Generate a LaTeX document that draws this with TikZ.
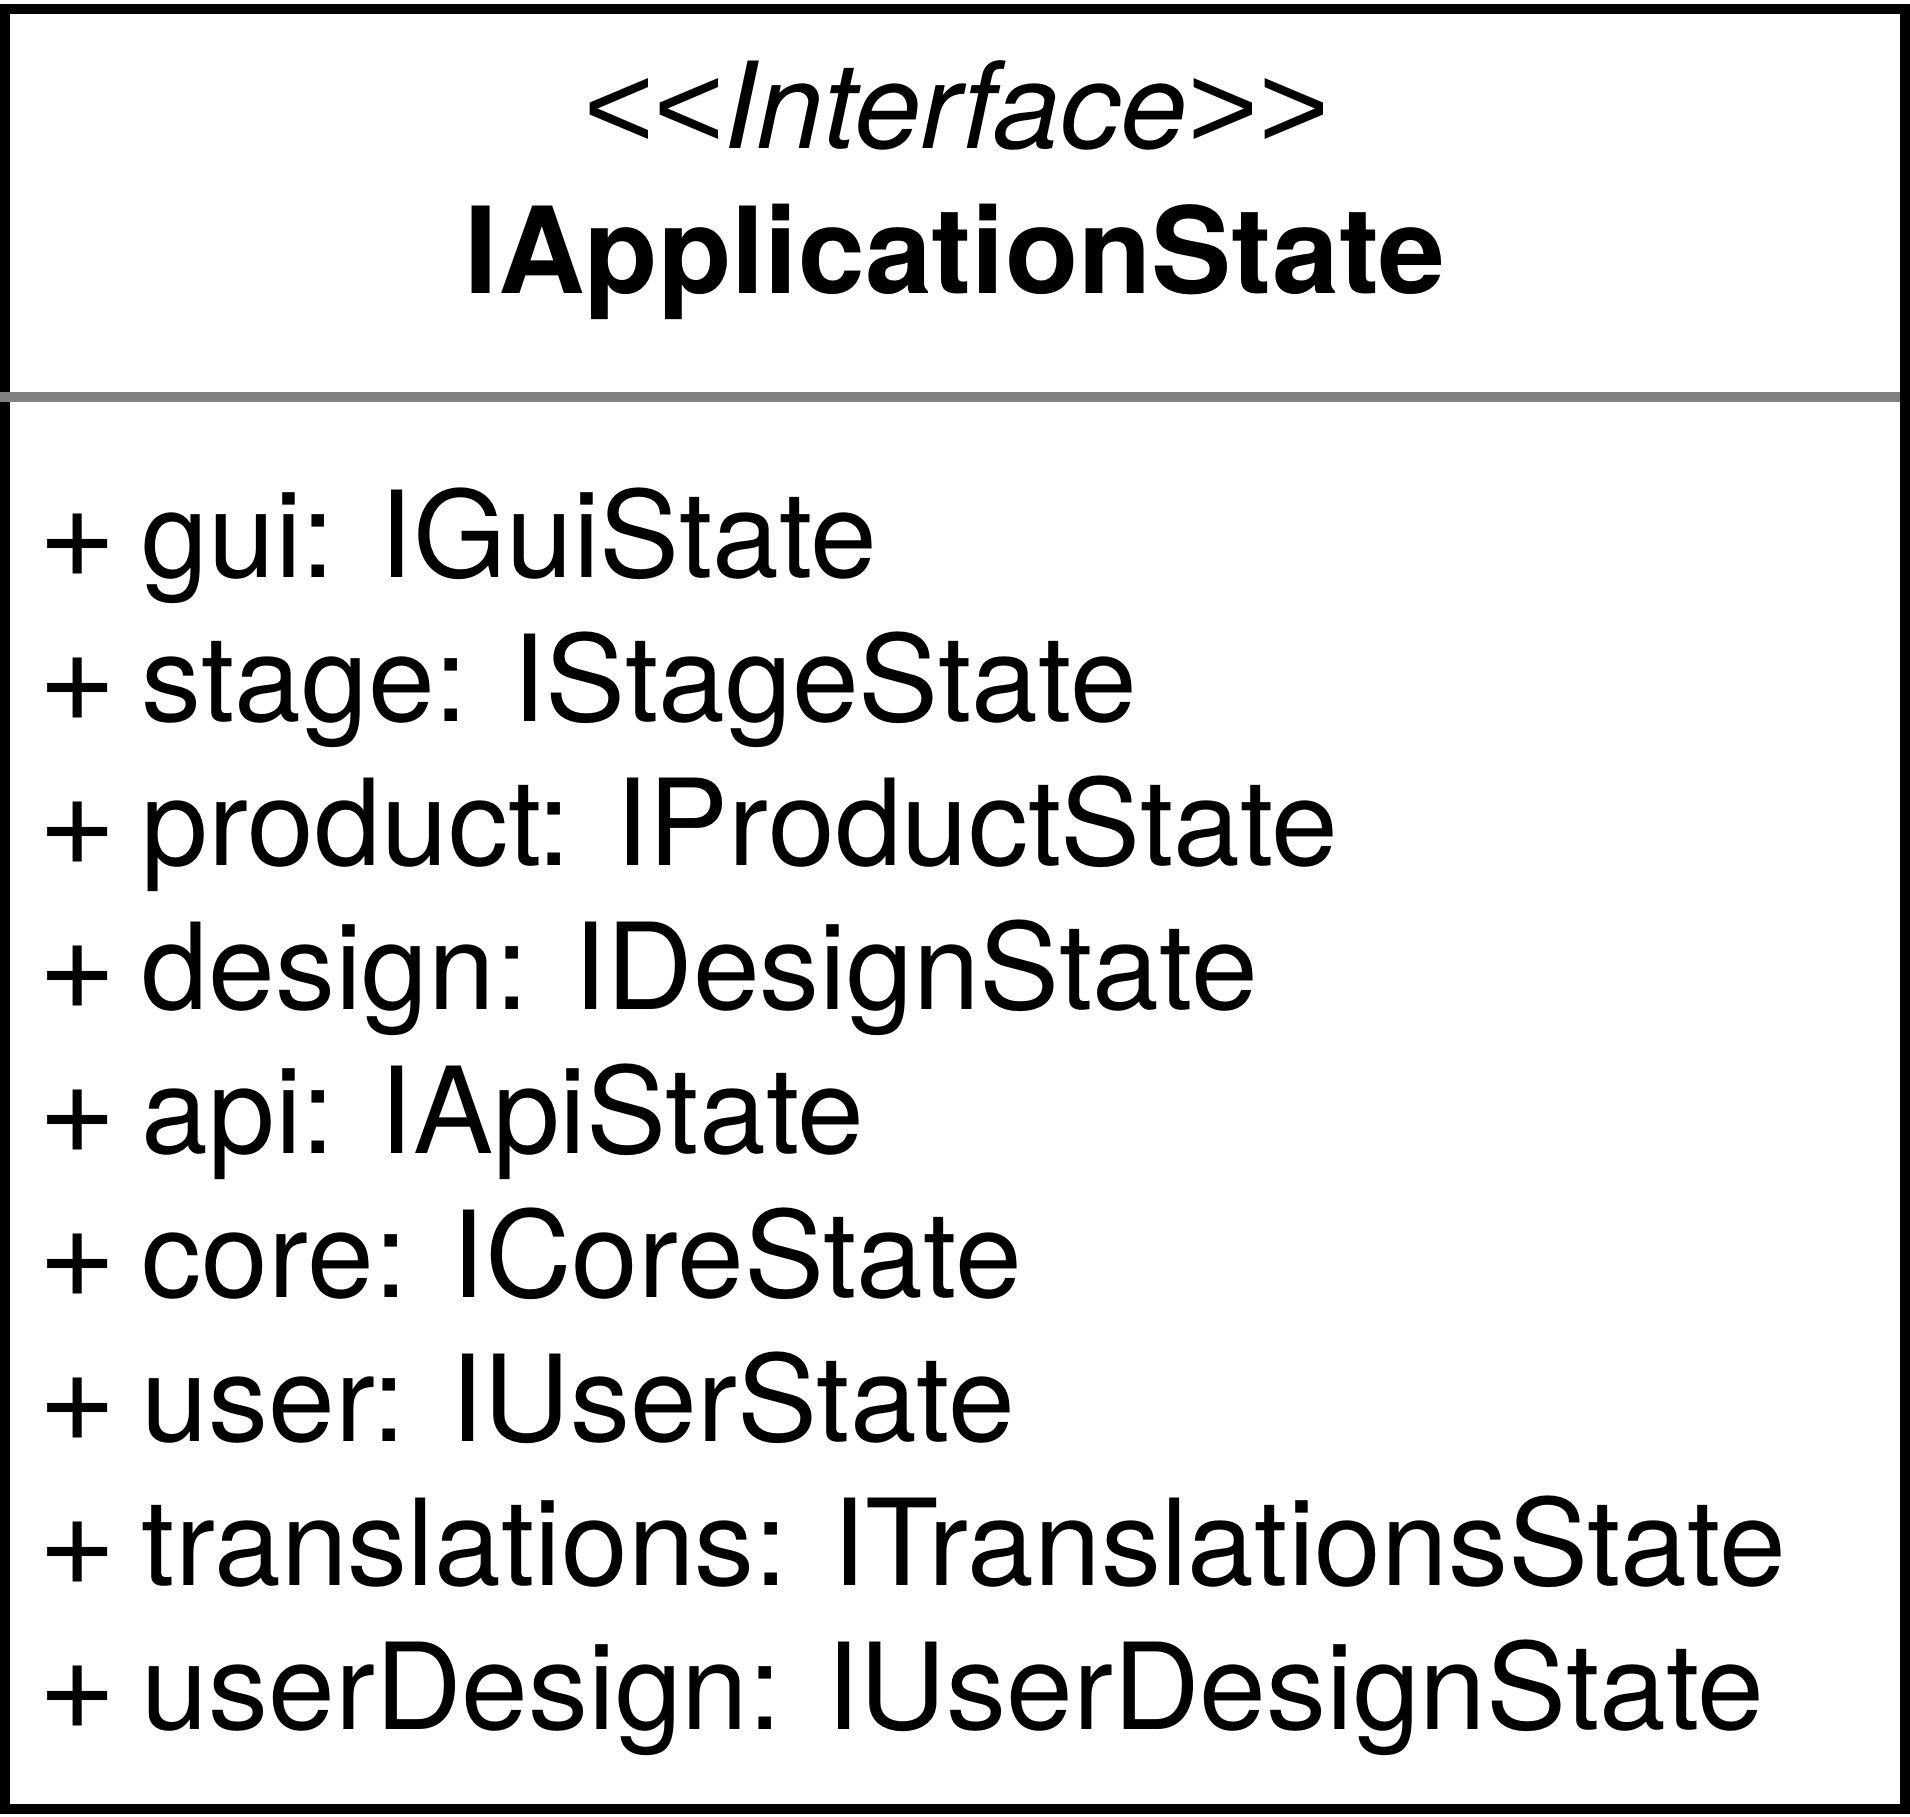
\documentclass[tikz,border=0pt]{standalone}
\usepackage{fontspec}
\setmainfont{TeX Gyre Heros}
\newfontfamily\lsans{Liberation Sans}
\newcommand{\pl}{{\fontsize{134}{144}\selectfont +}\kern-8pt}
\begin{document}
\begin{tikzpicture}[x=1pt,y=-1pt,
  bigtext/.style={inner sep=0pt,font=\fontsize{120}{144}\selectfont},
  attr/.style={bigtext,anchor=base west},
  head/.style={bigtext,anchor=base},
  frame/.style={draw=black,line width=10pt},
  sepline/.style={draw=black!50,line width=10pt}]
\useasboundingbox (0,0) rectangle (1910,1816);
\fill[white] (0,0) rectangle (1910,1816);
\draw[frame] (5,9) rectangle (1905,1809);
\coordinate (sepL) at (0,397);
\coordinate (sepR) at (1900,397);
\draw[sepline] (sepL) -- (sepR);
\node[head,font=\fontsize{120}{144}\selectfont\itshape] (stereo) at (955,148) {{\lsans <\kern0pt<}Interface{\lsans >\kern0pt>}};
\node[head,font=\fontsize{120}{144}\selectfont\bfseries] (title) at (955,293) {IApplicationState};
\node[attr] (a1) at (38,577) {\pl{} gui: IGuiState};
\node[attr] (a2) at (38,721) {\pl{} stage: IStageState};
\node[attr] (a3) at (38,865) {\pl{} product: IProductState};
\node[attr] (a4) at (38,1009) {\pl{} design: IDesignState};
\node[attr] (a5) at (38,1153) {\pl{} api: IApiState};
\node[attr] (a6) at (38,1297) {\pl{} core: ICoreState};
\node[attr] (a7) at (38,1441) {\pl{} user: IUserState};
\node[attr] (a8) at (38,1585) {\pl{} translations: ITranslationsState};
\node[attr] (a9) at (38,1729) {\pl{} userDesign: IUserDesignState};
\end{tikzpicture}
\end{document}
